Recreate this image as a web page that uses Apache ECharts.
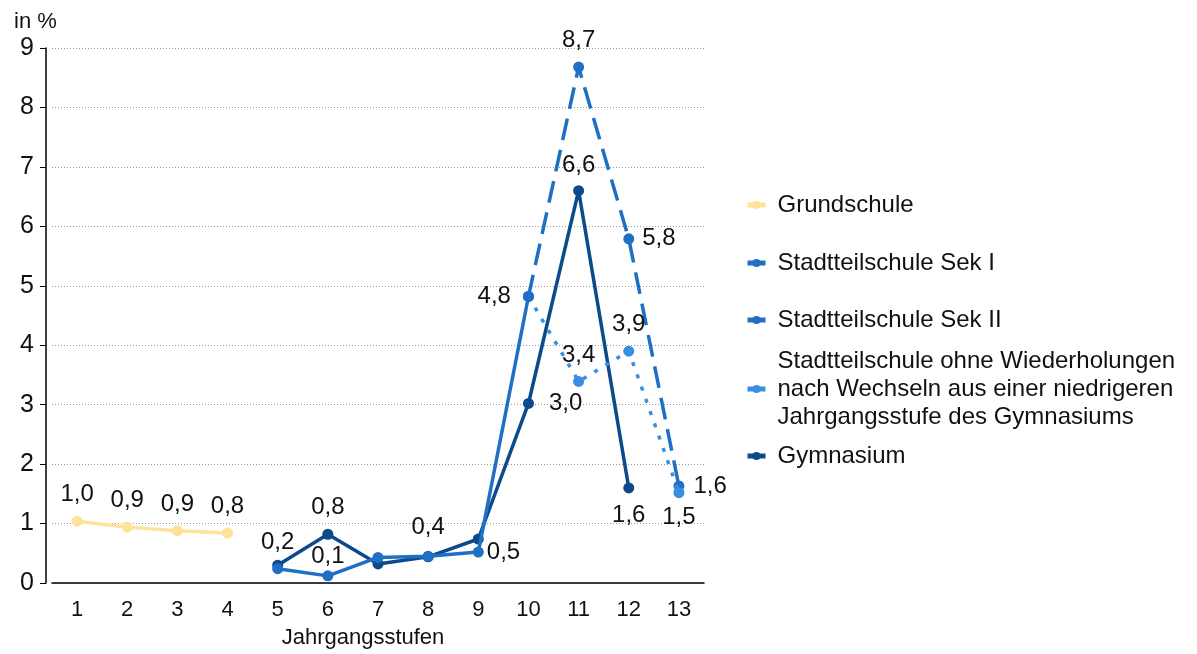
<!DOCTYPE html>
<html>
<head>
<meta charset="utf-8">
<script src="https://cdn.jsdelivr.net/npm/echarts@6/dist/echarts.min.js"></script>
<style>
  html, body { margin: 0; padding: 0; background: #fff; }
  #main { width: 1197px; height: 654px; }
</style>
</head>
<body>
<div id="main"></div>
<script>
const categories = ['1', '2', '3', '4', '5', '6', '7', '8', '9', '10', '11', '12', '13']
const grundschule = [1.04, 0.94, 0.88, 0.84, null, null, null, null, null, null, null, null, null]
const sekI = [null, null, null, null, 0.24, 0.12, 0.43, 0.45, 0.52, 4.82, null, null, null]
const sekII = [null, null, null, null, null, null, null, null, null, 4.82, 8.68, 5.79, 1.63]
const ohneWdh = [null, null, null, null, null, null, null, null, null, 4.82, 3.39, 3.90, 1.52]
const gymnasium = [null, null, null, null, 0.30, 0.82, 0.32, 0.44, 0.74, 3.02, 6.60, 1.60, null]

const names = {
  grund: 'Grundschule',
  sekI: 'Stadtteilschule Sek I',
  sekII: 'Stadtteilschule Sek II',
  ohne: 'Stadtteilschule ohne Wiederholungen\nnach Wechseln aus einer niedrigeren\nJahrgangsstufe des Gymnasiums',
  gym: 'Gymnasium'
}

// which points get a value label: [position, distance]
const labelPos = {
  grund: { 0: ['top', 9], 1: ['top', 9], 2: ['top', 9], 3: ['top', 9] },
  sekI: { 4: ['top', 9], 5: ['top', 2], 8: ['right', 3], 9: ['left', 12] },
  gym: { 5: ['top', 9], 7: ['top', 12], 9: ['right', 15], 10: ['top', 8], 11: ['bottom', 10] },
  sekII: { 10: ['top', 9], 11: ['right', 8], 12: ['right', 9] },
  ohne: { 10: ['top', 9], 11: ['top', 9], 12: ['bottom', 7] }
}

const fmt = v => v.toFixed(1).replace('.', ',')

const withLabels = (values, key) => values.map((v, i) => {
  const pos = labelPos[key][i]
  if (v == null) return null
  if (!pos) return { value: v, label: { show: false } }
  return {
    value: v,
    label: {
      show: true,
      position: pos[0],
      distance: pos[1],
      formatter: fmt(v)
    }
  }
})

const font = 'Liberation Sans, Arial, sans-serif'

const labelStyle = {
  color: '#111',
  fontSize: 24,
  fontFamily: font
}

const makeSeries = (key, values, color, type, z) => ({
  name: names[key],
  type: 'line',
  data: withLabels(values, key),
  symbol: 'circle',
  symbolSize: 11,
  z: z,
  lineStyle: { color: color, width: 3.5, type: type },
  itemStyle: { color: color },
  label: labelStyle,
  labelLayout: { hideOverlap: false }
})

const legendBase = {
  orient: 'vertical',
  left: 740,
  itemWidth: 18,
  itemHeight: 10,
  lineStyle: { width: 5, type: 'solid' },
  textStyle: {
    color: '#111',
    fontSize: 24,
    lineHeight: 28,
    fontFamily: font,
    padding: [0, 0, 0, 7]
  }
}

const option = {
  animation: false,
  backgroundColor: '#fff',
  textStyle: { fontFamily: font },
  title: {
    text: 'in %',
    left: 9,
    top: 6,
    textStyle: { color: '#111', fontSize: 22, fontWeight: 'normal', fontFamily: font }
  },
  legend: [
    Object.assign({}, legendBase, { top: 186, data: [names.grund] }),
    Object.assign({}, legendBase, { top: 244, data: [names.sekI] }),
    Object.assign({}, legendBase, { top: 301, data: [names.sekII] }),
    Object.assign({}, legendBase, { top: 342, data: [names.ohne] }),
    Object.assign({}, legendBase, { top: 437, data: [names.gym] })
  ],
  grid: { left: 52, right: 493, top: 48, bottom: 70 },
  xAxis: {
    type: 'category',
    data: categories,
    boundaryGap: true,
    name: 'Jahrgangsstufen',
    nameLocation: 'middle',
    nameGap: 44,
    nameTextStyle: { color: '#111', fontSize: 22, padding: [0, 30, 0, 0] },
    axisLine: { lineStyle: { color: '#000', width: 1.5 } },
    axisTick: { alignWithLabel: true, length: 6, lineStyle: { color: '#000' } },
    axisLabel: { color: '#111', fontSize: 22, margin: 16 },
    splitLine: { show: false }
  },
  yAxis: {
    type: 'value',
    min: 0,
    max: 9,
    interval: 1,
    offset: 6,
    axisLine: { show: true, lineStyle: { color: '#000', width: 1.5 } },
    axisTick: { show: true, length: 6, lineStyle: { color: '#000' } },
    axisLabel: { color: '#111', fontSize: 25, margin: 12 },
    splitLine: { lineStyle: { color: '#999', type: [1, 2], width: 1 } }
  },
  series: [
    makeSeries('grund', grundschule, '#fde29a', 'solid', 2),
    makeSeries('gym', gymnasium, '#0b4a8b', 'solid', 3),
    makeSeries('sekII', sekII, '#1f6fc5', [22, 10], 4),
    makeSeries('ohne', ohneWdh, '#3a8ee0', [4, 9], 5),
    makeSeries('sekI', sekI, '#1f6fc5', 'solid', 6)
  ]
}

const chart = echarts.init(document.getElementById('main'))
chart.setOption(option)
</script>
</body>
</html>
